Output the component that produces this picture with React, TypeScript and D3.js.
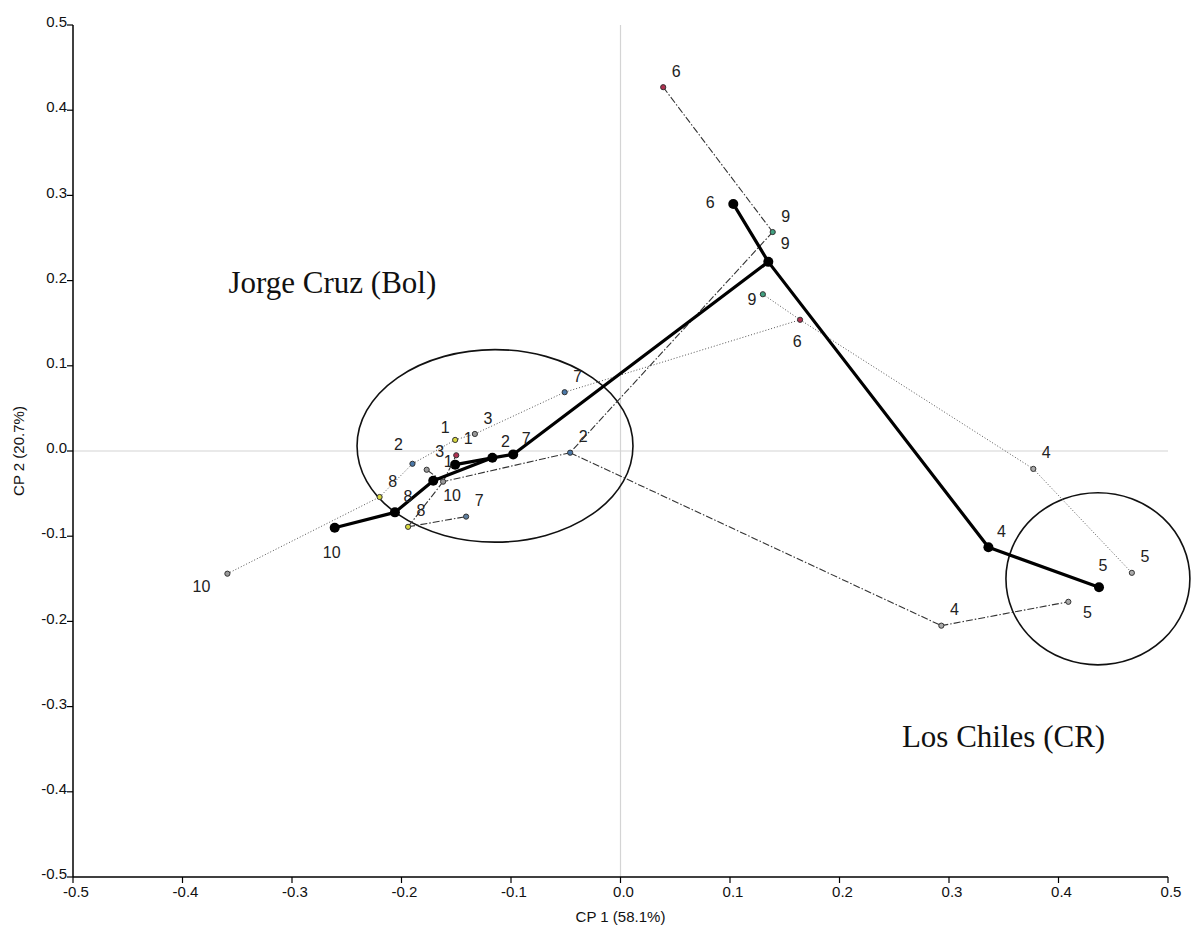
import React from "react";
import * as d3 from "d3";

// sampling points of the three trajectories (PCA scores)
const meanPts = [
  { k: "1", x: -0.171, y: -0.035 },
  { k: "2", x: -0.117, y: -0.008 },
  { k: "3", x: -0.151, y: -0.016 },
  { k: "4", x: 0.336, y: -0.113 },
  { k: "5", x: 0.437, y: -0.16 },
  { k: "6", x: 0.103, y: 0.29 },
  { k: "7", x: -0.098, y: -0.004 },
  { k: "8", x: -0.206, y: -0.072 },
  { k: "9", x: 0.135, y: 0.222 },
  { k: "10", x: -0.261, y: -0.09 },
];
const seriesA = [
  { k: "1", x: -0.15, y: -0.005 },
  { k: "2", x: -0.046, y: -0.002 },
  { k: "3", x: -0.177, y: -0.022 },
  { k: "4", x: 0.293, y: -0.205 },
  { k: "5", x: 0.409, y: -0.177 },
  { k: "6", x: 0.039, y: 0.427 },
  { k: "7", x: -0.141, y: -0.077 },
  { k: "8", x: -0.194, y: -0.089 },
  { k: "9", x: 0.139, y: 0.257 },
  { k: "10", x: -0.162, y: -0.036 },
];
const seriesB = [
  { k: "1", x: -0.151, y: 0.013 },
  { k: "2", x: -0.19, y: -0.015 },
  { k: "3", x: -0.133, y: 0.02 },
  { k: "4", x: 0.377, y: -0.021 },
  { k: "5", x: 0.467, y: -0.143 },
  { k: "6", x: 0.164, y: 0.154 },
  { k: "7", x: -0.051, y: 0.069 },
  { k: "8", x: -0.22, y: -0.054 },
  { k: "9", x: 0.13, y: 0.184 },
  { k: "10", x: -0.359, y: -0.144 },
];

// links between points
const meanLinks = [["10", "8"], ["8", "1"], ["1", "2"], ["3", "2"], ["2", "7"], ["7", "9"], ["9", "6"], ["9", "4"], ["4", "5"]];
const linksA = [["6", "9"], ["9", "2"], ["2", "4"], ["4", "5"], ["2", "10"], ["10", "1"], ["10", "3"], ["10", "8"], ["8", "7"]];
const linksB = [["10", "8"], ["8", "2"], ["2", "1"], ["1", "3"], ["3", "7"], ["7", "6"], ["9", "6"], ["6", "4"], ["4", "5"]];

// group ellipses
const groups = [
  { name: "Jorge Cruz (Bol)", cx: -0.1146, cy: 0.006, rx: 0.126, ry: 0.113, tx: -0.358, ty: 0.185 },
  { name: "Los Chiles (CR)", cx: 0.436, cy: -0.15, rx: 0.084, ry: 0.101, tx: 0.257, ty: -0.347 },
];

const ticks = [-0.5, -0.4, -0.3, -0.2, -0.1, 0, 0.1, 0.2, 0.3, 0.4, 0.5];

const W = 1191;
const H = 935;
const x = d3.scaleLinear().domain([-0.5, 0.5]).range([73, 1168]);
const y = d3.scaleLinear().domain([-0.5, 0.5]).range([877, 25]);

// label nudges in px (default up-right)
const nudge = {
  M1: [15, -19], M3: [-17, -18], M5: [4, -22], M6: [-23, -2], M9: [17, -18], M10: [-3, 25],
  A1: [12, -17], A3: [13, -18], A5: [19, 11], A10: [9, 14],
  B1: [-10, -13], B2: [-14, -19], B6: [-3, 22], B9: [-11, 5], B10: [-26, 13],
};
const hiddenLabels = ["M3"];
const fills = {
  A1: "#b03050", A2: "#4a78a8", A3: "#999", A4: "#aaa", A5: "#aaa", A6: "#b03050", A7: "#6080a0", A8: "#d8d840", A9: "#40a080", A10: "#999",
  B1: "#d8d840", B2: "#4a78a8", B3: "#999", B4: "#aaa", B5: "#aaa", B6: "#b03050", B7: "#4a78a8", B8: "#d8d840", B9: "#40a080", B10: "#999",
};

// plain hyphen, not the unicode minus
const fmt = (v) => (Math.abs(v) < 1e-9 ? "0.0" : v.toFixed(1));

const App = () => {
  const linkLines = (pts, links, prefix, style) =>
    links.map(([a, b], i) => {
      const p = pts.find((d) => d.k === a);
      const q = pts.find((d) => d.k === b);
      return (
        <line key={prefix + i} x1={x(p.x)} y1={y(p.y)} x2={x(q.x)} y2={y(q.y)} {...style} />
      );
    });

  const labels = (pts, prefix) =>
    pts
      .filter((d) => !hiddenLabels.includes(prefix + d.k))
      .map((d) => {
        const [dx, dy] = nudge[prefix + d.k] || [13, -16];
        return (
          <text key={prefix + "l" + d.k} x={x(d.x) + dx} y={y(d.y) + dy} dy="0.35em" textAnchor="middle"
            fontSize={16} fill="#222">{d.k}</text>
        );
      });

  return (
    <svg width={W} height={H} style={{ position: "absolute", left: 0, top: 0, background: "#fff" }}
      fontFamily="'Liberation Sans', Arial, sans-serif">
      {/* zero lines */}
      <line x1={x(0)} x2={x(0)} y1={y(0.5)} y2={y(-0.5)} stroke="#d4d4d4" strokeWidth={1.2} />
      <line x1={x(-0.5)} x2={x(0.5)} y1={y(0)} y2={y(0)} stroke="#d4d4d4" strokeWidth={1.2} />

      {groups.map((g) => (
        <g key={g.name}>
          <ellipse cx={x(g.cx)} cy={y(g.cy)} rx={x(g.rx) - x(0)} ry={y(0) - y(g.ry)} fill="none" stroke="#111" strokeWidth={1.6} />
          <text x={x(g.tx)} y={y(g.ty)} fontFamily="'Liberation Serif', 'Times New Roman', serif" fontSize={31} fill="#111">{g.name}</text>
        </g>
      ))}

      {linkLines(seriesB, linksB, "B", { stroke: "#555", strokeWidth: 1, strokeDasharray: "1 2" })}
      {linkLines(seriesA, linksA, "A", { stroke: "#333", strokeWidth: 1.1, strokeDasharray: "7 2 1.5 2" })}
      {linkLines(meanPts, meanLinks, "M", { stroke: "#000", strokeWidth: 3.2, strokeLinecap: "round" })}

      {meanPts.map((d) => (
        <circle key={"Mc" + d.k} cx={x(d.x)} cy={y(d.y)} r={5} fill="#000" />
      ))}
      {[...seriesA.map((d) => ["A", d]), ...seriesB.map((d) => ["B", d])].map(([s, d]) => (
        <circle key={s + "c" + d.k} cx={x(d.x)} cy={y(d.y)} r={2.6} fill={fills[s + d.k]} stroke="#333" strokeWidth={1} />
      ))}

      {labels(meanPts, "M")}
      {labels(seriesA, "A")}
      {labels(seriesB, "B")}

      {/* axes */}
      <line x1={x(-0.5)} x2={x(0.5)} y1={y(-0.5)} y2={y(-0.5)} stroke="#000" strokeWidth={1.5} />
      <line x1={x(-0.5)} x2={x(-0.5)} y1={y(-0.5)} y2={y(0.5)} stroke="#000" strokeWidth={1.5} />
      {ticks.map((t) => (
        <g key={"xt" + t}>
          <line x1={x(t)} x2={x(t)} y1={y(-0.5)} y2={y(-0.5) + 6} stroke="#000" strokeWidth={1.2} />
          <text x={x(t) + 3} y={y(-0.5) + 20} textAnchor="middle" fontSize={15} fill="#111">{fmt(t)}</text>
        </g>
      ))}
      {ticks.map((t) => (
        <g key={"yt" + t}>
          <line x1={x(-0.5) - 6} x2={x(-0.5)} y1={y(t)} y2={y(t)} stroke="#000" strokeWidth={1.2} />
          <text x={x(-0.5) - 6} y={y(t)} dy="0.15em" textAnchor="end" fontSize={15} fill="#111">{fmt(t)}</text>
        </g>
      ))}
      <text x={x(0)} y={922} textAnchor="middle" fontSize={15} fill="#111">CP 1 (58.1%)</text>
      <text transform={`translate(24, ${y(0)}) rotate(-90)`} textAnchor="middle" fontSize={15} fill="#111">CP 2 (20.7%)</text>
    </svg>
  );
};

export default App;
